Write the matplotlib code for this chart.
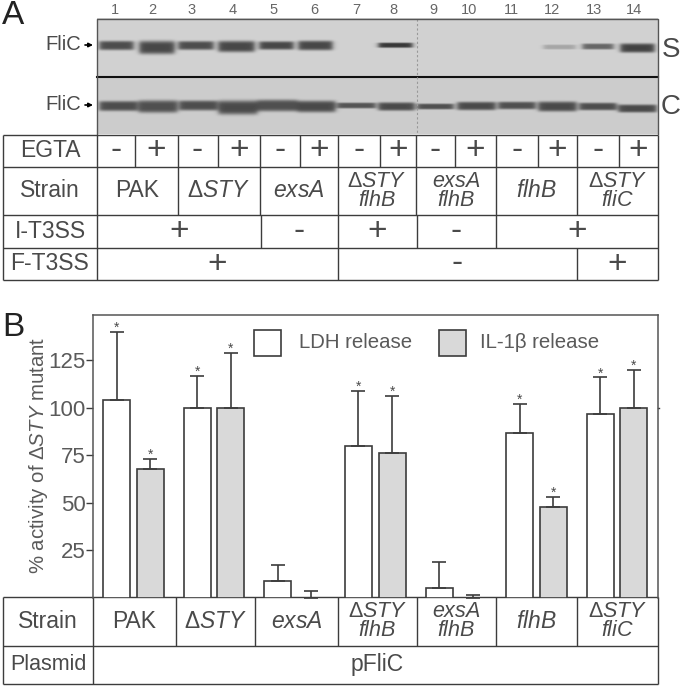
"""Western blot panel and LDH / IL-1b release bars with strain tables."""

import matplotlib
matplotlib.use("Agg")
import matplotlib.pyplot as plt
import numpy as np

plt.rcParams["font.family"] = ["Liberation Sans", "DejaVu Sans"]
plt.rcParams["mathtext.fontset"] = "custom"
plt.rcParams["mathtext.rm"] = "Liberation Sans"
plt.rcParams["mathtext.it"] = "Liberation Sans:italic"

TEXT = "#4a4a4a"
LINE = "#3c3c3c"
DELTA = "\u0394$\\mathit{STY}$"

# panel B values
strains = [0, 1, 2, 3, 4, 5, 6]
ldh = [104, 100, 9, 80, 5, 87, 97]
ldh_top = [140, 117, 17, 109, 19, 102, 116]
il1b = [68, 100, 0, 76, 0, 48, 100]
il1b_top = [73, 129, 3.3, 106, 1.5, 53, 120]
ldh_star = [1, 1, 0, 1, 0, 1, 1]
il1b_star = [1, 1, 0, 1, 0, 1, 1]
yticks = [25, 50, 75, 100, 125]

# panel A blot: lane number, left, right, centre y, half height, darkness
s_bands = [
    (1, 99, 133, 45, 4.6, 0.52), (2, 139, 174, 47, 6.6, 0.54),
    (3, 178, 213, 45, 4.4, 0.52), (4, 218, 254, 46, 5.6, 0.54),
    (5, 259, 293, 45, 4.2, 0.54), (6, 298, 332, 45, 4.8, 0.54),
    (8, 378, 412, 44.7, 2.6, 0.60), (12, 543, 575, 46.5, 2.4, 0.17),
    (13, 582, 613, 46, 3.0, 0.42), (14, 620, 654, 47.5, 4.6, 0.56),
]
c_bands = [
    (1, 99, 137, 105.5, 5.0, 0.50), (2, 138, 177, 106, 6.2, 0.49),
    (3, 179, 217, 105, 5.0, 0.50), (4, 218, 257, 107, 7.0, 0.51),
    (5, 257, 297, 105, 5.8, 0.49), (6, 297, 335, 106, 5.8, 0.51),
    (7, 337, 375, 105, 2.9, 0.47), (8, 378, 414, 106, 4.2, 0.51),
    (9, 417, 453, 106, 2.9, 0.49), (10, 457, 495, 105.5, 4.2, 0.51),
    (11, 498, 535, 105, 3.8, 0.49), (12, 538, 576, 106, 5.0, 0.51),
    (13, 579, 616, 106, 3.8, 0.50), (14, 618, 656, 108, 4.0, 0.51),
]
lane_labels = [str(i) for i in range(1, 15)]
lane_label_x = [115, 152, 192, 233, 274, 314, 356, 393, 433, 469, 511, 552, 594, 634]

# upper table
lane_edges = [97, 135, 177.5, 217.5, 260, 300, 338, 380, 416, 455, 496, 538, 577, 619, 657.5]
egta = ["-", "+"] * 7
strain_edges = [97, 177.5, 260, 338, 416, 496, 577, 657.5]
strain_names = ["PAK", DELTA, "$\\mathit{exsA}$", DELTA + "\n$\\mathit{flhB}$",
                "$\\mathit{exsA}$\n$\\mathit{flhB}$", "$\\mathit{flhB}$",
                DELTA + "\n$\\mathit{fliC}$"]
it3ss_edges = [97, 261, 338, 417, 496, 657.5]
it3ss = ["+", "-", "+", "-", "+"]
ft3ss_edges = [97, 338, 577, 657.5]
ft3ss = ["+", "-", "+"]
upper_rows = [134.5, 166.7, 215, 248, 280]
upper_names = ["EGTA", "Strain", "I-T3SS", "F-T3SS"]

# lower table
lower_edges = [93, 176, 255, 338, 417, 496, 577, 657.5]
lower_rows = [597, 645.5, 683.5]

fig = plt.figure(figsize=(6.8, 6.87), dpi=100)
canvas = fig.add_axes([0, 0, 1, 1], zorder=1)
canvas.set_xlim(0, 680)
canvas.set_ylim(687, 0)
canvas.axis("off")
canvas.patch.set_alpha(0)

# blot image
blot_x = np.arange(97, 658, 1.0)
blot_y = np.arange(18, 134, 1.0)
xx, yy = np.meshgrid(blot_x, blot_y)
shade = np.full(xx.shape, 0.82)
shade[yy > 76] = 0.80
for lane, x0, x1, yc, hh, dark in s_bands + c_bands:
    across = 0.5 * (np.tanh((xx - x0) / 3.0) - np.tanh((xx - x1) / 3.0))
    down = np.exp(-np.abs((yy - yc) / hh) ** 4)
    shade = shade - dark * across * down
canvas.imshow(shade, cmap="gray", vmin=0, vmax=1, extent=(97, 658, 134, 18),
              aspect="auto", interpolation="nearest", zorder=1)
canvas.set_xlim(0, 680)
canvas.set_ylim(687, 0)
canvas.plot([97, 658], [76.5, 76.5], color="#111111", lw=1.5, zorder=2)
canvas.plot([417, 417], [19, 134], color="#999999", lw=0.8, ls=(0, (2, 2)), zorder=2)
canvas.plot([97, 97, 658, 658], [134, 18.5, 18.5, 134], color="#555555", lw=1.0, zorder=2)

for x, label in zip(lane_label_x, lane_labels):
    canvas.text(x, 9.5, label, ha="center", va="center", fontsize=10.5, color="#666666")
for y in [45, 105]:
    canvas.text(81, y, "FliC", ha="right", va="center", fontsize=14.5, color=TEXT)
    canvas.annotate("", xy=(93, y), xytext=(85, y),
                    arrowprops=dict(arrowstyle="-|>", color="black", lw=1.2, mutation_scale=6,
                                    shrinkA=0, shrinkB=0))
canvas.text(662, 50, "S", ha="left", va="center", fontsize=20, color=TEXT)
canvas.text(661, 107, "C", ha="left", va="center", fontsize=20, color=TEXT)
canvas.text(2, 16, "A", ha="left", va="center", fontsize=24, color="#222222")
canvas.text(2, 327, "B", ha="left", va="center", fontsize=24, color="#222222")


def hline(y, x0=3, x1=657.5):
    canvas.plot([x0, x1], [y, y], color=LINE, lw=1.0, zorder=3, solid_capstyle="butt")


def vlines(xs, y0, y1):
    for x in xs:
        canvas.plot([x, x], [y0, y1], color=LINE, lw=1.0, zorder=3, solid_capstyle="butt")


def centred(edges, labels, y0, y1, size=16.5, **kw):
    for i, label in enumerate(labels):
        # the stacked strain names only just fit in their row
        fontsize = 15.5 if "\n" in label else size
        canvas.text((edges[i] + edges[i + 1]) / 2, (y0 + y1) / 2, label, ha="center",
                    va="center", fontsize=fontsize, color=TEXT, linespacing=0.9, **kw)


# upper table
for y in upper_rows:
    hline(y)
vlines([3, 97, 657.5], upper_rows[0], upper_rows[-1])
vlines(lane_edges[1:-1], upper_rows[0], upper_rows[1])
vlines(strain_edges[1:-1], upper_rows[1], upper_rows[2])
vlines(it3ss_edges[1:-1], upper_rows[2], upper_rows[3])
vlines(ft3ss_edges[1:-1], upper_rows[3], upper_rows[4])
for i, name in enumerate(upper_names):
    canvas.text(50, (upper_rows[i] + upper_rows[i + 1]) / 2, name, ha="center", va="center",
                fontsize=16.5, color=TEXT)
centred(lane_edges, egta, upper_rows[0], upper_rows[1], size=24)
centred(strain_edges, strain_names, upper_rows[1], upper_rows[2])
centred(it3ss_edges, it3ss, upper_rows[2], upper_rows[3], size=24)
centred(ft3ss_edges, ft3ss, upper_rows[3], upper_rows[4], size=24)

# lower table
for y in lower_rows:
    hline(y)
vlines([3, 93, 657.5], lower_rows[0], lower_rows[-1])
vlines(lower_edges[1:-1], lower_rows[0], lower_rows[1])
canvas.text(48, 621, "Strain", ha="center", va="center", fontsize=16.5, color=TEXT)
canvas.text(48, 664, "Plasmid", ha="center", va="center", fontsize=15.5, color=TEXT)
centred(lower_edges, strain_names, lower_rows[0], lower_rows[1])
canvas.text(377, 665, "pFliC", ha="center", va="center", fontsize=16.5, color=TEXT)

# panel B bars
ax = fig.add_axes([93 / 680, (687 - 597.7) / 687, 564.5 / 680, (597.7 - 315) / 687], zorder=2)
ax.patch.set_alpha(0)
offset = 0.208
width = 0.335
x = np.array(strains, dtype=float)
for xs, vals, tops, stars, color in [
    (x - offset, ldh, ldh_top, ldh_star, "white"),
    (x + offset, il1b, il1b_top, il1b_star, "#d9d9d9"),
]:
    ax.bar(xs, vals, width=width, color=color, edgecolor=LINE, linewidth=1.2)
    err = np.array(tops) - np.array(vals)
    ax.errorbar(xs, vals, yerr=[np.zeros(len(err)), err], fmt="none", ecolor=LINE,
                elinewidth=1.2, capsize=5, capthick=1.2)
    for xi, top, star in zip(xs, tops, stars):
        if star:
            ax.text(xi, top + 2.2, "*", ha="center", va="center", fontsize=10, color=TEXT)

ax.set_ylim(0, 148.9)
ax.set_xticks([])
ax.set_yticks(yticks)
ax.tick_params(axis="y", length=5, width=1.0, color=LINE, labelcolor="#5a5a5a",
               labelsize=16, pad=0.5)
ax.set_ylabel("% activity of " + DELTA + " mutant", fontsize=14.7, color="#5a5a5a")
ax.yaxis.set_label_coords(-0.076, 0.505)
ax.plot([6.5, 6.52], [100, 100], color=LINE, lw=1.0, clip_on=False)
ax.set_xlim(-0.5, 6.5)
ax.spines["bottom"].set_visible(False)
for side in ["left", "top", "right"]:
    ax.spines[side].set_color("#555555")
    ax.spines[side].set_linewidth(1.1)

# legend drawn by hand to keep the two boxes on one row above the bars
canvas.add_patch(plt.Rectangle((253.5, 329.5), 27, 26.5, fc="white", ec=LINE, lw=1.2, zorder=4))
canvas.add_patch(plt.Rectangle((439, 329.5), 27, 26.5, fc="#d9d9d9", ec=LINE, lw=1.2, zorder=4))
canvas.text(299, 343, "LDH release", ha="left", va="center", fontsize=14.7, color="#5a5a5a")
canvas.text(480, 343, "IL-1\u03b2 release", ha="left", va="center", fontsize=14.7, color="#5a5a5a")

fig.savefig("out.png", dpi=100)
